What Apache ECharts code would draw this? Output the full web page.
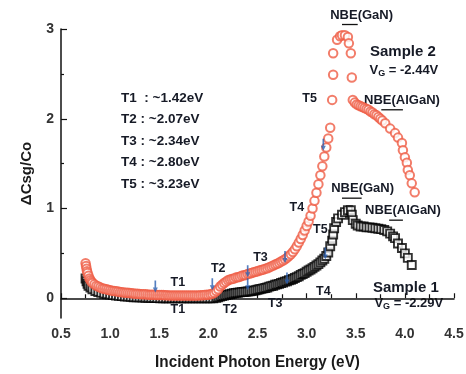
<!DOCTYPE html>
<html><head><meta charset="utf-8">
<script src="https://cdn.jsdelivr.net/npm/echarts@6/dist/echarts.min.js"></script>
<style>html,body{margin:0;padding:0;background:#fff}#c{width:466px;height:374px}</style>
</head><body><div id="c"></div>
<script>
// ---- Data ----
const xTicks = [0.5,1.0,1.5,2.0,2.5,3.0,3.5,4.0,4.5];
const yTicks = [0,1,2,3];

// Sample 2 (red circles): photon energy (eV)
const s2X = [0.75,0.755,0.76,0.765,0.77,0.78,0.79,0.80,0.81,0.82,0.84,0.86,0.88,0.90,0.92,0.94,0.96,0.98,1.00,1.02,1.04,1.06,1.08,1.10,1.12,1.14,1.16,1.18,1.20,1.22,1.24,1.26,1.28,1.30,1.32,1.34,1.36,1.38,1.40,1.42,1.44,1.46,1.48,1.50,1.52,1.54,1.56,1.58,1.60,1.62,1.64,1.66,1.68,1.70,1.72,1.74,1.76,1.78,1.80,1.82,1.84,1.86,1.88,1.90,1.92,1.94,1.96,1.98,2.00,2.02,2.04,2.06,2.08,
 2.10,2.12,2.14,2.16,2.18,2.20,2.22,2.24,2.26,2.28,2.30,2.32,2.34,2.36,2.38,2.40,2.42,2.44,2.46,2.48,2.50,2.52,2.54,2.56,2.58,2.60,2.62,2.64,2.66,2.68,2.70,2.72,2.74,2.76,2.78,2.80,2.82,2.84,2.86,2.88,2.90,2.92,2.94,2.96,2.98,3.00,3.02,3.04,3.06,3.08,3.10,3.12,3.14,3.16,3.18,3.20,3.22,3.24,
 3.26,3.27,3.27,3.31,3.34,3.36,3.39,3.42,3.43,3.45,3.46,3.47,
 3.49,3.51,3.53,3.55,3.57,3.59,3.61,3.63,3.65,3.67,3.69,3.71,3.73,3.75,3.77,3.80,3.85,3.90,3.93,3.97,3.98,4.00,4.02,4.03,4.05,4.07,4.10];
// Sample 2: ΔCsg/Co
const s2Y = [0.39,0.36,0.33,0.30,0.28,0.25,0.22,0.20,0.185,0.17,0.155,0.14,0.13,0.12,0.11,0.105,0.10,0.095,0.09,0.085,0.08,0.078,0.075,0.07,0.068,0.065,0.062,0.06,0.058,0.055,0.053,0.05,0.05,0.048,0.046,0.045,0.044,0.042,0.04,0.04,0.04,0.038,0.037,0.036,0.035,0.035,0.034,0.033,0.032,0.031,0.03,0.03,0.03,0.03,0.03,0.03,0.03,0.03,0.03,0.03,0.03,0.03,0.031,0.032,0.033,0.034,0.036,0.038,0.04,0.045,0.05,0.06,0.08,
 0.10,0.13,0.15,0.17,0.185,0.20,0.21,0.215,0.22,0.23,0.235,0.24,0.25,0.255,0.26,0.27,0.275,0.28,0.29,0.295,0.30,0.31,0.315,0.32,0.33,0.335,0.345,0.355,0.365,0.375,0.385,0.395,0.41,0.42,0.435,0.45,0.47,0.49,0.515,0.545,0.58,0.62,0.66,0.705,0.755,0.805,0.855,0.92,1.00,1.085,1.175,1.27,1.37,1.47,1.58,1.68,1.78,1.90,
 2.21,2.49,2.73,2.88,2.92,2.93,2.93,2.91,2.84,2.73,2.46,2.21,
 2.18,2.16,2.15,2.14,2.13,2.12,2.11,2.10,2.08,2.07,2.05,2.04,2.02,2.00,1.98,1.95,1.89,1.84,1.79,1.73,1.65,1.57,1.51,1.43,1.37,1.28,1.18];

// Sample 1 (black squares)
const s1X = [0.75,0.76,0.77,0.78,0.80,0.82,0.85,0.88,0.91,0.94,0.97,1.00,1.03,1.06,1.09,1.12,1.15,1.18,1.21,1.24,1.27,1.30,1.33,1.36,1.39,1.42,1.45,1.48,1.51,1.54,1.57,1.60,1.63,1.66,1.69,1.72,1.75,1.78,1.81,1.84,1.87,1.90,1.93,1.96,1.99,2.02,2.05,2.08,
 2.10,2.12,2.14,2.16,2.18,2.20,2.22,2.24,2.26,2.28,2.30,2.32,2.34,2.36,2.38,2.40,2.42,2.44,2.46,2.48,2.50,2.52,2.54,2.56,2.58,2.60,2.62,2.64,2.66,2.68,2.70,2.72,2.74,2.76,2.78,2.80,2.82,2.84,2.86,2.88,2.90,2.92,2.94,2.96,2.98,3.00,3.02,3.04,3.06,3.08,3.10,3.12,3.14,3.16,3.18,3.20,3.22,
 3.24,3.26,3.27,3.28,3.30,3.32,3.36,3.39,3.42,3.45,3.46,3.47,
 3.50,3.52,3.55,3.58,3.61,3.64,3.67,3.70,3.73,3.76,3.79,3.82,3.85,3.88,3.90,3.93,3.97,4.00,4.03,4.07];
const s1Y = [0.22,0.19,0.16,0.14,0.12,0.10,0.08,0.07,0.06,0.05,0.045,0.04,0.035,0.03,0.027,0.024,0.02,0.018,0.015,0.012,0.01,0.01,0.008,0.006,0.005,0.004,0.003,0.002,0.0,0.0,0.0,0.0,0.0,0.0,0.0,0.0,0.0,0.0,0.0,0.0,0.0,0.0,0.0,0.0,0.0,0.0,0.0,0.005,
 0.01,0.02,0.025,0.03,0.035,0.04,0.045,0.05,0.055,0.06,0.062,0.065,0.068,0.07,0.073,0.075,0.078,0.08,0.085,0.09,0.095,0.10,0.105,0.11,0.115,0.12,0.13,0.135,0.14,0.15,0.155,0.16,0.17,0.175,0.185,0.19,0.20,0.205,0.215,0.225,0.235,0.245,0.26,0.27,0.28,0.295,0.31,0.32,0.335,0.35,0.365,0.38,0.40,0.42,0.44,0.47,0.51,
 0.58,0.64,0.71,0.78,0.85,0.89,0.93,0.96,0.98,0.98,0.93,0.87,
 0.83,0.81,0.80,0.80,0.79,0.79,0.785,0.78,0.775,0.77,0.76,0.745,0.72,0.69,0.67,0.61,0.56,0.50,0.45,0.37];

// Transition arrows (x eV, y)
const arrowX = [1.46,2.04,2.40,2.40,2.78,2.80,3.17,3.19];
const arrowY = [0.13,0.155,0.30,0.155,0.46,0.22,1.71,0.50];

// Curve labels
const tagText = ['T1','T2','T3','T4','T5','T1','T2','T3','T4','T5'];
const tagX = [1.69,2.10,2.53,2.90,3.03,1.69,2.22,2.68,3.17,3.14];
const tagY = [0.18,0.33,0.45,1.01,2.23,-0.13,-0.13,-0.06,0.07,0.76];

// Transition energies list
const listText = ['T1  : ~1.42eV','T2 : ~2.07eV','T3 : ~2.34eV','T4 : ~2.80eV','T5 : ~3.23eV'];

// ---- Chart ----
const FONT = '"Liberation Sans", Arial, sans-serif';
const RED = '#ef5c45';
const INK = '#161a26';
const zip = (xs, ys) => xs.map((x, i) => [x, ys[i]]);
const chart = echarts.init(document.getElementById('c'), null, {renderer: 'canvas'});
const yMin = -0.22, yMax = 3;
chart.setOption({
  animation: false,
  grid: {left: 61, right: 12, top: 29, bottom: 56, containLabel: false, outerBoundsMode: 'none'},
  xAxis: {
    type: 'value', min: 0.5, max: 4.5, interval: 0.5,
    axisLine: {lineStyle: {color: '#111', width: 1.5}},
    axisTick: {inside: true, length: 5, lineStyle: {color: '#111', width: 1.2}},
    minorTick: {show: true, splitNumber: 2, length: 4, lineStyle: {color: '#111', width: 1.2}},
    splitLine: {show: false},
    axisLabel: {fontFamily: FONT, fontWeight: 'bold', fontSize: 14, color: '#333', margin: 9,
      formatter: v => xTicks.includes(v) ? v.toFixed(1) : ''}
  },
  yAxis: [{
    type: 'value', min: yMin, max: yMax,
    name: 'ΔCsg/Co', nameLocation: 'middle', nameGap: 27, nameRotate: 90,
    nameTextStyle: {fontFamily: FONT, fontWeight: 'bold', fontSize: 15, color: '#1a1a1a'},
    axisLine: {show: true, lineStyle: {color: '#111', width: 1.5}},
    axisTick: {inside: true, length: 6, customValues: yTicks, lineStyle: {color: '#111', width: 1.2}},
    splitLine: {show: false},
    axisLabel: {customValues: yTicks, fontFamily: FONT, fontWeight: 'bold', fontSize: 14, color: '#333', margin: 7}
  }, {
    type: 'value', min: yMin, max: yMax, position: 'left',
    axisLine: {show: false},
    axisTick: {inside: true, length: 3, customValues: [0.5,1.5,2.5], lineStyle: {color: '#111', width: 1.2}},
    axisLabel: {show: false}, splitLine: {show: false}
  }],
  series: [{
    name: 'Sample 1', type: 'scatter', data: zip(s1X, s1Y),
    symbol: 'rect', symbolSize: 8,
    itemStyle: {color: '#fff', borderColor: '#000', borderWidth: 1.9}
  }, {
    name: 'Sample 2', type: 'scatter', data: zip(s2X, s2Y),
    symbol: 'circle', symbolSize: 8.5,
    itemStyle: {color: '#fff', borderColor: RED, borderWidth: 2}
  }, {
    name: 'arrows', type: 'scatter', data: zip(arrowX, arrowY), z: 5,
    symbol: 'path://M2,0 L4,0 L4,7 L6,7 L3,12 L0,7 L2,7 Z', symbolSize: [5, 12],
    itemStyle: {color: '#2a5fb0'}
  }]
});

const px = (x, y) => chart.convertToPixel({gridIndex: 0}, [x, y]);
const tStyle = (size) => ({fontFamily: FONT, fontWeight: 'bold', fontSize: size, fill: INK});
const g = [];
// x-axis title (slightly condensed like the original)
const mid = px(2.5, yMin);
g.push({type: 'text', x: mid[0], y: mid[1] + 44, scaleX: 0.9, originX: 0, style: {
  text: 'Incident Photon Energy (eV)', align: 'center', verticalAlign: 'middle',
  fontFamily: FONT, fontWeight: 'bold', fontSize: 17, fill: '#1a1a1a'}});
tagText.forEach((t, i) => {
  const p = px(tagX[i], tagY[i]);
  g.push({type: 'text', x: p[0], y: p[1], z: 10, style: Object.assign({text: t, align: 'center', verticalAlign: 'middle'}, tStyle(12.5))});
});
listText.forEach((t, i) => {
  g.push({type: 'text', x: 121, y: 98 + i * 21.5, style: Object.assign({text: t, align: 'left', verticalAlign: 'middle'}, tStyle(13.5))});
});
// NBE annotations (positions in data coordinates)
const nbe = [
  {text: 'NBE(GaN)', x: 3.56, y: 3.155, ux: [3.36, 3.52], uy: 3.05},
  {text: 'NBE(AlGaN)', x: 3.97, y: 2.20, ux: [3.76, 3.98], uy: 2.10},
  {text: 'NBE(GaN)', x: 3.57, y: 1.226, ux: [3.36, 3.56], uy: 1.115},
  {text: 'NBE(AlGaN)', x: 3.98, y: 0.98, ux: [3.84, 3.98], uy: 0.87}
];
nbe.forEach(n => {
  const p = px(n.x, n.y);
  g.push({type: 'text', x: p[0], y: p[1], style: Object.assign({text: n.text, align: 'center', verticalAlign: 'middle'}, tStyle(13))});
  const a = px(n.ux[0], n.uy), b = px(n.ux[1], n.uy);
  g.push({type: 'line', shape: {x1: a[0], y1: a[1], x2: b[0], y2: b[1]}, style: {stroke: '#111', lineWidth: 1.3}});
});
// Sample labels
const samples = [
  {name: 'Sample 2', v: '-2.44V', x: 3.98, y: 2.75, vx: 3.99, vy: 2.54},
  {name: 'Sample 1', v: '-2.29V', x: 4.01, y: 0.12, vx: 4.04, vy: -0.06}
];
samples.forEach(s => {
  const p = px(s.x, s.y), q = px(s.vx, s.vy);
  g.push({type: 'text', x: p[0], y: p[1], style: Object.assign({text: s.name, align: 'center', verticalAlign: 'middle'}, tStyle(15))});
  g.push({type: 'text', x: q[0], y: q[1], style: {
    text: 'V{s|G} = ' + s.v, align: 'center', verticalAlign: 'middle',
    fontFamily: FONT, fontWeight: 'bold', fontSize: 13, fill: INK,
    rich: {s: {fontFamily: FONT, fontWeight: 'bold', fontSize: 9, fill: INK, padding: [6, 0, 0, 0]}}
  }});
});
chart.setOption({graphic: g});
</script></body></html>
